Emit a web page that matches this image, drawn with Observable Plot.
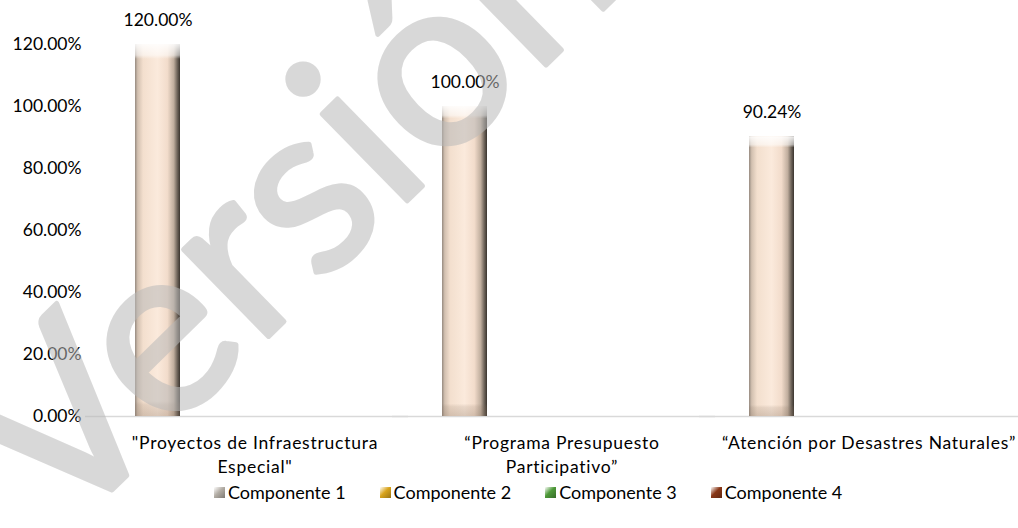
<!DOCTYPE html>
<html>
<head>
<meta charset="utf-8">
<script src="https://cdn.jsdelivr.net/npm/d3@7"></script>
<script src="https://cdn.jsdelivr.net/npm/@observablehq/plot@0.6"></script>
<style>
  html, body { margin: 0; padding: 0; background: #fff; }
  #wrap { position: relative; width: 1018px; height: 528px; overflow: hidden; font-family: Lato, sans-serif; }
  #legend { display: flex; align-items: center; height: 28px; padding-left: 214px; gap: 34px; font-size: 18px; line-height: 28px; color: #000; }
  #legend .item { display: flex; align-items: center; gap: 3px; }
  #legend .sw { width: 11px; height: 11px; display: inline-block; }
  #wm { position: absolute; left: 0; top: 0; pointer-events: none; }
  #chart g[aria-label="fx-axis tick label"] text { letter-spacing: 0.75px; }
</style>
</head>
<body>
<div id="wrap">
  <div id="chart"></div>
  <div id="legend"></div>
  <svg id="wm" width="1018" height="528"></svg>
</div>
<script>
const categories = [
  "\"Proyectos de Infraestructura\nEspecial\"",
  "“Programa Presupuesto\nParticipativo”",
  "“Atención por Desastres Naturales”"
];
const components = ["Componente 1", "Componente 2", "Componente 3", "Componente 4"];
const componente1Values = [1.20, 1.00, 0.9024];
const yTicks = [0, 0.2, 0.4, 0.6, 0.8, 1.0, 1.2];
const componentColors = ["#b4aea6", "#d9a41c", "#4f9a3a", "#8a3818"];
const watermarkText = "Versión";

const data = categories.map((c, i) => ({category: c, component: components[0], value: componente1Values[i]}));
const pct = d3.format(".2%");

const chart = Plot.plot({
  width: 1018,
  height: 478,
  marginTop: 44,
  marginBottom: 62,
  marginLeft: 100,
  marginRight: -5,
  style: {fontFamily: "Lato, sans-serif", fontSize: "17.5px", color: "#000", background: "transparent", overflow: "visible"},
  fx: {domain: categories, padding: 0, label: null},
  x: {domain: components, paddingInner: 0.314, paddingOuter: 0.5, axis: null},
  y: {domain: [0, 1.2]},
  marks: [
    Plot.ruleY([0], {stroke: "#d9d9d9", strokeWidth: 1.5, insetLeft: -16}),
    Plot.barY(data, {fx: "category", x: "component", y: "value", fill: "url(#barGrad)"}),
    Plot.barY(data, {fx: "category", x: "component", y: "value", fill: "url(#bevelGrad)"}),
    Plot.text(data, {fx: "category", x: "component", y: "value", text: d => pct(d.value), dy: -24, lineAnchor: "middle", fill: "#000"}),
    Plot.axisY({ticks: yTicks, tickFormat: ".2%", tickSize: 0, tickPadding: 20, label: null}),
    Plot.axisFx({anchor: "bottom", tickSize: 0, tickPadding: 15, label: null, lineHeight: 1.4})
  ]
});

const defs = document.createElementNS("http://www.w3.org/2000/svg", "defs");
defs.innerHTML = `
  <linearGradient id="barGrad" x1="0" x2="1" y1="0" y2="0">
    <stop offset="0%" stop-color="#968a80"/>
    <stop offset="6%" stop-color="#d2c0b0"/>
    <stop offset="18%" stop-color="#f3dfce"/>
    <stop offset="50%" stop-color="#fbeadc"/>
    <stop offset="72%" stop-color="#f2dccb"/>
    <stop offset="86%" stop-color="#c0ae9e"/>
    <stop offset="94%" stop-color="#6e645a"/>
    <stop offset="100%" stop-color="#3a342e"/>
  </linearGradient>
  <linearGradient id="bevelGrad" x1="0" x2="0" y1="0" y2="1">
    <stop offset="0%" stop-color="#ffffff" stop-opacity="0.9"/>
    <stop offset="3%" stop-color="#ffffff" stop-opacity="0.55"/>
    <stop offset="4%" stop-color="#ffffff" stop-opacity="0"/>
    <stop offset="96%" stop-color="#806a58" stop-opacity="0"/>
    <stop offset="97%" stop-color="#806a58" stop-opacity="0.15"/>
    <stop offset="100%" stop-color="#806a58" stop-opacity="0.28"/>
  </linearGradient>`;
chart.insertBefore(defs, chart.firstChild);
document.getElementById("chart").appendChild(chart);

const legend = document.getElementById("legend");
components.forEach((c, i) => {
  const item = document.createElement("div");
  item.className = "item";
  const sw = document.createElement("span");
  sw.className = "sw";
  sw.style.background = `linear-gradient(135deg, #fff 0%, ${componentColors[i]} 45%, ${d3.color(componentColors[i]).darker(1)} 100%)`;
  const t = document.createElement("span");
  t.textContent = c;
  item.appendChild(sw);
  item.appendChild(t);
  legend.appendChild(item);
});

// Watermark "Versión": glyph centres fitted along a rotated baseline
const wm = document.getElementById("wm");
const NS = "http://www.w3.org/2000/svg";
const angle = 44.4, S = 240;
const probe = document.createElementNS(NS, "text");
probe.setAttribute("x", 0); probe.setAttribute("y", 0);
probe.setAttribute("font-family", "Lato, sans-serif");
probe.setAttribute("font-size", S);
probe.setAttribute("fill", "none");
probe.textContent = watermarkText;
wm.appendChild(probe);
const ctr = k => { const e = probe.getExtentOfChar(k); return e.x + e.width / 2; };
const cV = ctr(0), cI = ctr(4), cO = ctr(5);
wm.removeChild(probe);
const L = (((421 - (cI - cV)) / 4) + ((522 - (cO - cV)) / 5)) / 2;
const rad = angle * Math.PI / 180;
const ux = Math.cos(rad), uy = -Math.sin(rad);
const vx = 113, vy = 489;
const x0 = vx - cV * ux, y0 = vy - cV * uy;
const t = document.createElementNS(NS, "text");
t.setAttribute("x", x0); t.setAttribute("y", y0);
t.setAttribute("transform", `rotate(${-angle} ${x0} ${y0})`);
t.setAttribute("font-family", "Lato, sans-serif");
t.setAttribute("font-size", S);
t.setAttribute("letter-spacing", L);
t.setAttribute("fill", "rgb(185,185,185)");
t.setAttribute("stroke", "rgb(185,185,185)");
t.setAttribute("stroke-width", 5);
t.setAttribute("stroke-linejoin", "round");
t.setAttribute("opacity", 0.54);
t.textContent = watermarkText;
wm.appendChild(t);
</script>
</body>
</html>
